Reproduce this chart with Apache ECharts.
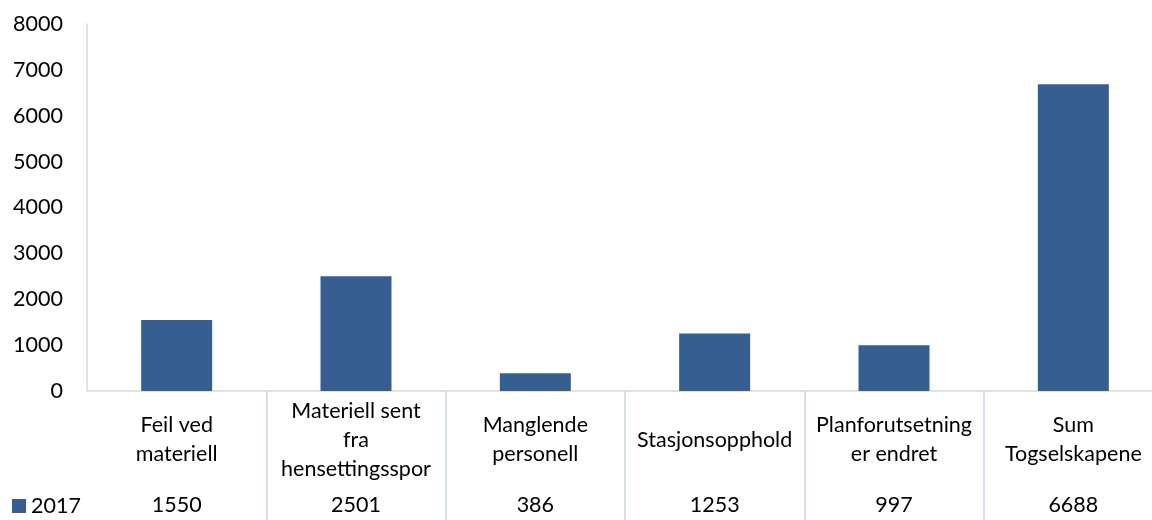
<!DOCTYPE html>
<html>
<head>
<meta charset="utf-8">
<script src="https://cdn.jsdelivr.net/npm/echarts@6/dist/echarts.min.js"></script>
<style>
  html, body { margin: 0; padding: 0; background: #fff; }
  #main { width: 1152px; height: 520px; }
</style>
</head>
<body>
<div id="main"></div>
<script>
// kategorier (linjeskift som i tabellen)
var categories = ['Feil ved\nmateriell', 'Materiell sent\nfra\nhensettingsspor', 'Manglende\npersonell',
  'Stasjonsopphold', 'Planforutsetning\ner endret', 'Sum\nTogselskapene'];
var values2017 = [1550, 2501, 386, 1253, 997, 6688];
var seriesName = '2017';
var yTicks = { min: 0, max: 8000, interval: 1000 };

var font = 'Lato, "Open Sans", sans-serif';
var fs = 21.5;
var myChart = echarts.init(document.getElementById('main'));
var option = {
  animation: false,
  textStyle: { fontFamily: font, fontSize: fs, color: '#000' },
  legend: {
    left: 12, top: 495, padding: 0,
    itemWidth: 14, itemHeight: 14, itemGap: 4,
    icon: 'rect',
    textStyle: { fontFamily: font, fontSize: fs, color: '#000' },
    data: [seriesName]
  },
  grid: { left: 87, top: 24, width: 1076, bottom: 129, containLabel: false, outerBoundsMode: 'none' },
  xAxis: [
    {
      type: 'category',
      data: categories,
      axisLine: { show: true, lineStyle: { color: '#d9d9d9', width: 1.5 } },
      axisTick: { show: false },
      axisLabel: {
        interval: 0, margin: 49, verticalAlign: 'middle', lineHeight: 29,
        fontFamily: font, fontSize: fs, color: '#000'
      }
    },
    {
      type: 'category',
      position: 'bottom',
      data: values2017.map(String),
      axisLine: { show: false },
      axisTick: {
        show: true, length: 129, inside: false,
        interval: function (idx) { return idx > 0; },
        lineStyle: { color: '#c9d6e8', width: 1.5 }
      },
      axisLabel: {
        interval: 0, margin: 114, verticalAlign: 'middle',
        fontFamily: font, fontSize: fs, color: '#000'
      }
    }
  ],
  yAxis: {
    type: 'value',
    min: yTicks.min, max: yTicks.max, interval: yTicks.interval,
    axisLine: { show: true, lineStyle: { color: '#d9d9d9', width: 1.5 } },
    axisTick: { show: false },
    splitLine: { show: false },
    axisLabel: {
      margin: 24, fontFamily: font, fontSize: fs, color: '#000',
      formatter: function (v) { return String(v); }
    }
  },
  series: [{
    name: seriesName,
    type: 'bar',
    barWidth: 71,
    itemStyle: { color: '#375e91' },
    data: values2017
  }]
};
myChart.setOption(option);
</script>
</body>
</html>
